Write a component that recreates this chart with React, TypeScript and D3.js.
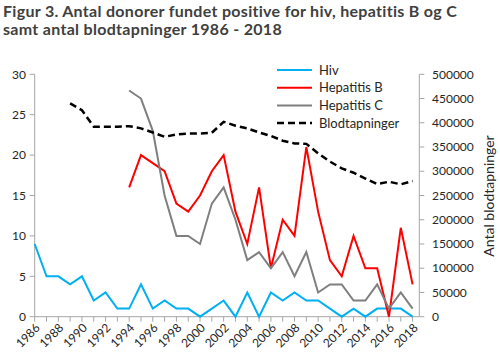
import React from 'react';
import * as d3 from 'd3';

// years 1986 - 2018
const years = d3.range(1986, 2019);
const hiv = [9, 5, 5, 4, 5, 2, 3, 1, 1, 4, 1, 2, 1, 1, 0, 1, 2, 0, 3, 0, 3, 2, 3, 2, 2, 1, 0, 1, 0, 1, 1, 1, 0];
// hepatitis B and C start in 1994
const hepBYears = d3.range(1994, 2019);
const hepB = [16, 20, 19, 18, 14, 13, 15, 18, 20, 13, 9, 16, 6, 12, 10, 21, 13, 7, 5, 10, 6, 6, 0, 11, 4];
const hepC = [28, 27, 23, 15, 10, 10, 9, 14, 16, 12, 7, 8, 6, 8, 5, 8, 3, 4, 4, 2, 2, 4, 1, 3, 1];
// blood donations from 1989
const bloodYears = d3.range(1989, 2019);
const blood = [440000, 426000, 392000, 392000, 392000, 393000, 388500, 380000, 371000, 376000, 378000, 378000, 379500, 402000,
  394000, 388500, 380000, 373000, 363000, 357500, 356500, 337000, 320000, 306000, 297000, 285000, 273500, 278500, 273000, 280000];

const leftTicks = [0, 5, 10, 15, 20, 25, 30];
const rightTicks = [0, 50000, 100000, 150000, 200000, 250000, 300000, 350000, 400000, 450000, 500000];
const labelYears = d3.range(1986, 2019, 2);

const series = [
  { name: 'Hiv', color: '#00b0f0', dash: '' },
  { name: 'Hepatitis B', color: '#ff0000', dash: '' },
  { name: 'Hepatitis C', color: '#7f7f7f', dash: '' },
  { name: 'Blodtapninger', color: '#000000', dash: '7,4' },
];

const font = 'Lato, "DejaVu Sans", sans-serif';

export default function App() {
  const left = 34.7, right = 419.3, top = 74.3, bottom = 316.7;
  const x = d3.scaleLinear().domain([1986, 2018]).range([left, 412.6]);
  const yL = d3.scaleLinear().domain([0, 30]).range([bottom, top]);
  const yR = d3.scaleLinear().domain([0, 500000]).range([bottom, top]);

  const lineL = d3.line<[number, number]>().x(d => x(d[0])).y(d => yL(d[1]));
  const lineR = d3.line<[number, number]>().x(d => x(d[0])).y(d => yR(d[1]));

  const paths = [
    lineL(years.map((y, i) => [y, hiv[i]])),
    lineL(hepBYears.map((y, i) => [y, hepB[i]])),
    lineL(hepBYears.map((y, i) => [y, hepC[i]])),
    lineR(bloodYears.map((y, i) => [y, blood[i]])),
  ];

  const axisColor = '#a6a6a6';
  const textColor = '#262626';

  return (
    <svg width={500} height={361} style={{ position: 'absolute', left: 0, top: 0 }} fontFamily={font}>
      <rect width={500} height={361} fill="#fff" />
      <text x={3} y={17} fontSize={16} fontWeight="bold" fill="#404040" letterSpacing={0.3}>Figur 3. Antal donorer fundet positive for hiv, hepatitis B og C</text>
      <text x={3} y={35} fontSize={16} fontWeight="bold" fill="#404040" letterSpacing={0.3}>samt antal blodtapninger 1986 - 2018</text>

      {/* left axis */}
      <line x1={left} x2={left} y1={top} y2={bottom} stroke={axisColor} />
      {leftTicks.map(t => (
        <g key={t}>
          <line x1={left - 5} x2={left} y1={yL(t)} y2={yL(t)} stroke={axisColor} />
          <text x={26} y={yL(t)} dy="0.35em" textAnchor="end" fontSize={12} fill={textColor}>{t}</text>
        </g>
      ))}

      {/* right axis */}
      <line x1={right} x2={right} y1={top} y2={bottom} stroke={axisColor} />
      {rightTicks.map(t => (
        <g key={t}>
          <line x1={right} x2={right + 5} y1={yR(t)} y2={yR(t)} stroke={axisColor} />
          <text x={432} y={yR(t)} dy="0.35em" textAnchor="start" fontSize={12} fill={textColor}>{t}</text>
        </g>
      ))}
      <text transform={`translate(494,196) rotate(-90)`} textAnchor="middle" fontSize={14} fill={textColor}>Antal blodtapninger</text>

      {/* x axis */}
      <line x1={left} x2={right} y1={bottom} y2={bottom} stroke={axisColor} />
      {years.map(yr => (
        <line key={yr} x1={x(yr)} x2={x(yr)} y1={bottom} y2={bottom + 5} stroke={axisColor} />
      ))}
      {labelYears.map(yr => (
        <text key={yr} transform={`translate(${x(yr) + 3},${bottom + 9}) rotate(-45)`} textAnchor="end" dy="0.35em" fontSize={12} fill={textColor}>{yr}</text>
      ))}

      {/* series */}
      {paths.map((p, i) => (
        <path key={i} d={p || ''} fill="none" stroke={series[i].color} strokeWidth={i === 3 ? 2.5 : 2} strokeDasharray={series[i].dash} />
      ))}

      {/* legend */}
      {series.map((s, i) => (
        <g key={s.name} transform={`translate(277,${70 + i * 17.7})`}>
          <line x1={0} x2={35} y1={0} y2={0} stroke={s.color} strokeWidth={i === 3 ? 2.5 : 2} strokeDasharray={s.dash} />
          <text x={42} y={0} dy="0.35em" fontSize={13} fill={textColor}>{s.name}</text>
        </g>
      ))}
    </svg>
  );
}
